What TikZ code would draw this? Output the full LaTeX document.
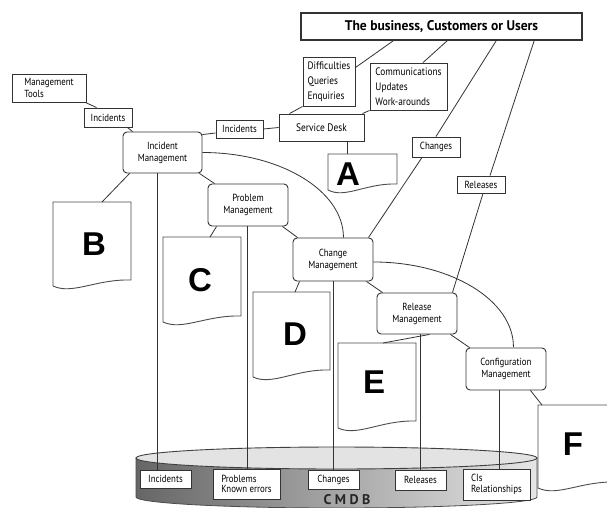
\documentclass[tikz,border=0pt]{standalone}
\usepackage{fontspec}
\setmainfont{PT Sans}
\newfontfamily\labfont[FakeStretch=0.86]{PT Sans}
\newfontfamily\topfont[FakeStretch=0.97]{PT Sans}
\newfontfamily\letfont{Liberation Sans}
\newfontfamily\dbfont[LetterSpace=25]{PT Sans}
\usetikzlibrary{calc}
\newcommand\paperdoc[5]{% x0,y0,w,yL,yR
  \path[paper] (#1,#2) -- (#1+#3,#2) -- (#1+#3,#5) .. controls (#1+0.55*#3,#5-1) and (#1+0.25*#3,#4+9) .. (#1,#4) -- cycle;}
\begin{document}
\begin{tikzpicture}[x=1pt,y=-1pt,
  lab/.style={font=\labfont\fontsize{10.3}{12}\selectfont, text=black},
  box/.style={lab, draw=black!80, line width=0.9pt, fill=white, inner sep=0pt, align=center},
  lbox/.style={box, align=left},
  mgmt/.style={box, rounded corners=4pt},
  conn/.style={draw=black!80, line width=0.8pt},
  paper/.style={draw=black!70, line width=0.9pt, fill=white},
  letter/.style={font=\letfont\bfseries\fontsize{33}{33}\selectfont, inner sep=0pt, text=black}]
\useasboundingbox (0,0) rectangle (607,508);
\fill[white] (0,0) rectangle (607,508);

% CMDB cylinder
\path[left color=black!60, right color=black!10, draw=black!70, line width=0.8pt]
  (136,458) -- (136,497) arc[start angle=180, end angle=0, x radius=200.5, y radius=11] -- (537,458) -- cycle;
\path[fill=black!11, draw=black!75, line width=0.9pt] (336.5,458) ellipse [x radius=200.5, y radius=11];

% documents
\paperdoc{328}{154}{69}{190}{184}
\paperdoc{53}{202}{78}{286}{280}
\paperdoc{163}{237}{78}{322}{316}
\paperdoc{253}{292}{77}{377}{370}
\paperdoc{338}{343}{78}{428}{421}
\paperdoc{538}{405}{78}{488}{482}
\coordinate (Atop) at (347,154);
\coordinate (Btop) at (102,202);
\coordinate (Ctop) at (210,237);
\coordinate (Dtop) at (295,292);
\coordinate (Etop) at (383,343);
\coordinate (Ftop) at (542,405);
\node[letter] (lA) at (348,174) {A};
\node[letter] (lB) at (94,244) {B};
\node[letter] (lC) at (200,280) {C};
\node[letter] (lD) at (295,334) {D};
\node[letter] (lE) at (374,382) {E};
\node[letter] (lF) at (573,444) {F};

% nodes
\node[box, minimum width=281pt, minimum height=27pt, line width=1.8pt,
      font=\topfont\bfseries\fontsize{14}{16}\selectfont] (top) at (441.5,26.5) {The business, Customers or Users};
\node[lbox, minimum width=52pt, minimum height=49pt, font=\labfont\fontsize{10.8}{15}\selectfont] (diff) at (329,81.5) {Difficulties\\Queries\\Enquiries};
\node[lbox, minimum width=77pt, minimum height=47pt, font=\labfont\fontsize{10.8}{15}\selectfont] (comm) at (408.5,86.5) {Communications\\Updates\\Work-arounds};
\node[box, minimum width=48pt, minimum height=20pt] (chg) at (436,147) {Changes};
\node[box, minimum width=48pt, minimum height=17pt] (rel) at (481,184.5) {Releases};
\node[box, minimum width=85pt, minimum height=27pt, font=\labfont\fontsize{10.9}{12}\selectfont] (sd) at (321.5,127.5) {Service Desk};
\node[box, minimum width=47pt, minimum height=18pt] (incR) at (239.5,129) {Incidents};
\node[lbox, minimum width=74pt, minimum height=28pt] (mt) at (49,88) {Management\\Tools};
\node[box, minimum width=48pt, minimum height=19pt] (incL) at (108,117.5) {Incidents};
\node[mgmt, minimum width=79pt, minimum height=41pt] (im) at (162.5,152.5) {Incident\\Management};
\node[mgmt, minimum width=80pt, minimum height=42pt] (pm) at (248,205) {Problem\\Management};
\node[mgmt, minimum width=80pt, minimum height=43pt] (cm) at (333,259.5) {Change\\Management};
\node[mgmt, minimum width=80pt, minimum height=41pt] (rm) at (417,313.5) {Release\\Management};
\node[mgmt, minimum width=80pt, minimum height=42pt] (cfg) at (506,369) {Configuration\\Management};

% CMDB contents
\node[box, minimum width=51pt, minimum height=18pt] (dbInc) at (165.5,479) {Incidents};
\node[lbox, minimum width=67pt, minimum height=30pt, font=\labfont\fontsize{10.3}{10.5}\selectfont] (dbProb) at (246.5,484) {Problems\\Known errors};
\node[box, minimum width=51pt, minimum height=19pt] (dbChg) at (333.5,479.5) {Changes};
\node[box, minimum width=51pt, minimum height=20pt] (dbRel) at (420.5,480) {Releases};
\node[lbox, minimum width=67pt, minimum height=31pt, font=\labfont\fontsize{10.3}{10.5}\selectfont] (dbCI) at (496.5,484.5) {CIs\\Relationships};
\node[font=\dbfont\bfseries\fontsize{14}{14}\selectfont, text=black!85, inner sep=0pt] (cmdb) at (347,499.5) {CMDB};

% connectors
\draw[conn] ([xshift=-1pt]mt.south east) -- ([xshift=13pt]incL.north west);
\draw[conn] ([xshift=-5pt]incL.south east) -- ([xshift=10pt]im.north west);
\draw[conn] ([yshift=-4pt]incR.west) -- ([yshift=-3pt]im.north east);
\draw[conn] (sd.west) -- (incR.east);
\draw[conn] (diff.south west) -- ([xshift=11pt]sd.north west);
\draw[conn] (comm.south west) -- ([xshift=-2pt]sd.north east);
\draw[conn] ([xshift=93pt]top.south west) -- ([yshift=-11pt]diff.north east);
\draw[conn] ([xshift=147pt]top.south west) -- ([xshift=14.5pt]comm.north);
\draw[conn] ([xshift=196pt]top.south west) -- (chg.north);
\draw[conn] ([xshift=-14pt]chg.south) -- ([xshift=-5pt]cm.north east);
\draw[conn] ([xshift=234pt]top.south west) -- ([xshift=9pt]rel.north);
\draw[conn] ([xshift=2pt]rel.south) -- ([xshift=-5pt]rm.north east);
\draw[conn] ([xshift=25.5pt]sd.south) -- (Atop);
\draw[conn] (im.east) arc[start angle=-90, end angle=0, x radius=141, y radius=85];
\draw[conn] ([xshift=7pt]im.south west) -- (Btop);
\draw[conn] ([xshift=-3pt]im.south east) -- ([xshift=7pt]pm.north west);
\draw[conn] ([xshift=-5.5pt]im.south) -- ([xshift=-8.5pt]dbInc.north);
\draw[conn] ([xshift=9pt]pm.south west) -- (Ctop);
\draw[conn] ([xshift=-6pt]pm.south east) -- ([xshift=5pt]cm.north west);
\draw[conn] ([xshift=-1pt]pm.south) -- ([xshift=0.5pt]dbProb.north);
\draw[conn] ([xshift=7pt]cm.south west) -- (Dtop);
\draw[conn] ([xshift=-7pt]cm.south east) -- ([xshift=6pt]rm.north west);
\draw[conn] (cm.south) -- ([xshift=-0.5pt]dbChg.north);
\draw[conn] ([yshift=-2.5pt]cm.east) arc[start angle=-90, end angle=0, x radius=140, y radius=85];
\draw[conn] ([xshift=-28pt]rm.south east) -- (Etop);
\draw[conn] ([xshift=-7pt]rm.south east) -- ([xshift=4pt]cfg.north west);
\draw[conn] ([xshift=3pt]rm.south) -- ([xshift=-0.5pt]dbRel.north);
\draw[conn] ([xshift=-16pt]cfg.south east) -- (Ftop);
\draw[conn] ([xshift=-7pt]cfg.south) -- ([xshift=2.5pt]dbCI.north);
\end{tikzpicture}
\end{document}
